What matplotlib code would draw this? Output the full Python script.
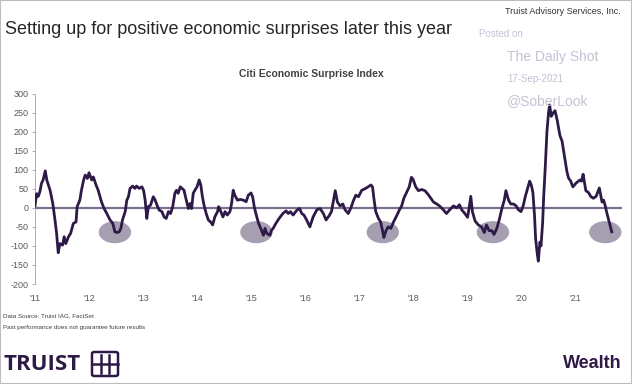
import matplotlib.pyplot as plt
from matplotlib.patches import Ellipse, Rectangle, FancyBboxPatch
from matplotlib.lines import Line2D

plt.rcParams['font.family'] = ['Liberation Sans', 'DejaVu Sans']
plt.rcParams['axes.unicode_minus'] = False

# Citi Economic Surprise Index (decimal year, index level)
years = [
    2011.00, 2011.03, 2011.06, 2011.09, 2011.12, 2011.15, 2011.19, 2011.22, 2011.28, 2011.33,
    2011.37, 2011.40, 2011.43, 2011.46, 2011.51, 2011.54, 2011.57, 2011.62, 2011.66, 2011.71,
    2011.76, 2011.78, 2011.83, 2011.86, 2011.90, 2011.93, 2011.97, 2012.00, 2012.05, 2012.08,
    2012.13, 2012.17, 2012.23, 2012.28, 2012.33, 2012.39, 2012.44, 2012.48, 2012.52, 2012.56,
    2012.59, 2012.62, 2012.67, 2012.70, 2012.73, 2012.76, 2012.81, 2012.85, 2012.88, 2012.93,
    2012.98, 2013.01, 2013.04, 2013.07, 2013.10, 2013.14, 2013.19, 2013.22, 2013.27, 2013.30,
    2013.35, 2013.39, 2013.43, 2013.47, 2013.51, 2013.55, 2013.59, 2013.62, 2013.65, 2013.69,
    2013.72, 2013.76, 2013.78, 2013.81, 2013.84, 2013.87, 2013.90, 2013.93, 2013.96, 2014.00,
    2014.04, 2014.07, 2014.10, 2014.13, 2014.17, 2014.21, 2014.25, 2014.29, 2014.33, 2014.38,
    2014.40, 2014.43, 2014.48, 2014.52, 2014.56, 2014.61, 2014.64, 2014.67, 2014.70, 2014.75,
    2014.80, 2014.86, 2014.91, 2014.95, 2015.00, 2015.03, 2015.06, 2015.09, 2015.14, 2015.18,
    2015.23, 2015.26, 2015.29, 2015.35, 2015.38, 2015.41, 2015.46, 2015.52, 2015.59, 2015.65,
    2015.69, 2015.73, 2015.78, 2015.85, 2015.90, 2015.94, 2015.98, 2016.03, 2016.09, 2016.15,
    2016.22, 2016.28, 2016.34, 2016.39, 2016.45, 2016.49, 2016.54, 2016.56, 2016.60, 2016.65,
    2016.70, 2016.74, 2016.80, 2016.85, 2016.90, 2016.94, 2016.99, 2017.05, 2017.11, 2017.17,
    2017.22, 2017.25, 2017.28, 2017.31, 2017.36, 2017.40, 2017.44, 2017.46, 2017.50, 2017.54,
    2017.59, 2017.64, 2017.70, 2017.75, 2017.79, 2017.83, 2017.88, 2017.93, 2017.97, 2018.00,
    2018.05, 2018.10, 2018.16, 2018.22, 2018.28, 2018.33, 2018.38, 2018.44, 2018.49, 2018.56,
    2018.62, 2018.68, 2018.75, 2018.81, 2018.86, 2018.90, 2018.96, 2019.01, 2019.04, 2019.07,
    2019.10, 2019.15, 2019.21, 2019.27, 2019.32, 2019.36, 2019.41, 2019.46, 2019.50, 2019.55,
    2019.60, 2019.64, 2019.69, 2019.72, 2019.77, 2019.81, 2019.86, 2019.91, 2019.95, 2020.00,
    2020.04, 2020.08, 2020.12, 2020.16, 2020.19, 2020.22, 2020.25, 2020.27, 2020.30, 2020.32,
    2020.35, 2020.37, 2020.40, 2020.42, 2020.45, 2020.48, 2020.51, 2020.53, 2020.56, 2020.60,
    2020.63, 2020.67, 2020.72, 2020.76, 2020.81, 2020.85, 2020.88, 2020.92, 2020.96, 2021.02,
    2021.09, 2021.12, 2021.15, 2021.20, 2021.25, 2021.29, 2021.34, 2021.39, 2021.45, 2021.50,
    2021.53, 2021.56, 2021.59, 2021.62, 2021.65, 2021.68,
]
values = [
    5, 37, 30, 42, 64, 73, 97, 72, 46, 11,
    -32, -67, -118, -94, -98, -76, -94, -76, -67, -41,
    -37, 3, 20, 46, 73, 86, 77, 92, 73, 81,
    60, 46, 16, -2, -15, -32, -41, -63, -65, -63,
    -54, -32, -10, 20, 29, 51, 57, 51, 57, 51,
    55, 46, 20, -28, 3, 7, 29, 22, 3, -6,
    -10, -24, -28, -10, -15, 3, 38, 46, 38, 55,
    51, 46, 33, 16, -2, 11, -2, 38, 46, 55,
    73, 60, 29, 7, -15, -32, -37, -45, -24, -10,
    3, -6, -24, -10, -19, -10, 11, 46, 33, 20,
    22, 20, 16, 33, 39, 29, 3, -15, -41, -54,
    -72, -54, -67, -72, -59, -54, -41, -28, -15, -8,
    -15, -10, -19, -6, -2, -15, -19, -32, -50, -24,
    -5, -2, -15, -32, -20, -10, 30, 45, 15, 5,
    10, -5, -15, 0, 20, 33, 29, 46, 50, 55,
    60, 55, 20, -10, -28, -37, -63, -78, -60, -50,
    -54, -37, -20, -5, 5, 25, 40, 55, 80, 75,
    55, 45, 48, 45, 35, 25, 15, 10, 5, -5,
    -15, -5, 5, 0, 8, -5, -15, -25, 0, 30,
    -10, -35, -45, -50, -65, -45, -60, -60, -70, -55,
    -30, -5, 20, 45, 20, 10, 10, 5, -5, -10,
    5, 30, 50, 70, 60, 40, -20, -80, -120, -140,
    -90, -100, -40, 30, 110, 200, 250, 270, 240, 250,
    255, 230, 190, 175, 130, 95, 78, 70, 55, 65,
    73, 70, 88, 45, 40, 30, 25, 30, 52, 15,
    20, 5, -14, -30, -45, -63,
]

# highlighted troughs
trough_years = [2012.48, 2015.10, 2017.44, 2019.48, 2021.56]
trough_level = -64

tick_years = list(range(2011, 2022))
tick_labels = ["'" + str(y)[2:] for y in tick_years]

purple = '#2e1a47'
gray_txt = '#595959'
mark = '#c4c2d4'

fig = plt.figure(figsize=(6.32, 3.84), dpi=100)
ax = fig.add_axes([35 / 632, 100 / 384, 587 / 632, 190.5 / 384])

for ty in trough_years:
    ax.add_patch(Ellipse((ty, trough_level), 0.6, 58, facecolor='#a69fb2',
                         edgecolor='none', zorder=1))

ax.axhline(0, color='#7d6e90', lw=1.6, zorder=2)
ax.plot(years, values, color=purple, lw=2, zorder=3)

ax.set_xlim(2011, 2021.87)
ax.set_ylim(-200, 300)
ax.set_yticks(range(-200, 301, 50))
ax.set_xticks(tick_years)
ax.set_xticklabels(tick_labels)
ax.tick_params(axis='y', labelsize=6.5, labelcolor=gray_txt, color='#a0a0a0',
               length=2.5, width=0.6, pad=2)
ax.tick_params(axis='x', labelsize=6.5, labelcolor=gray_txt, length=0, pad=7)
for s in ['top', 'right', 'bottom']:
    ax.spines[s].set_visible(False)
ax.spines['left'].set_color('#a0a0a0')
ax.spines['left'].set_linewidth(0.6)

# titles and watermark
fig.text(5 / 632, 1 - 30 / 384, 'Setting up for positive economic surprises later this year',
         fontsize=13, color='#262626', va='center', ha='left')
fig.text(621 / 632, 1 - 12 / 384, 'Truist Advisory Services, Inc.', fontsize=6.5,
         color='#333333', va='center', ha='right')
fig.text(311 / 632, 1 - 74 / 384, 'Citi Economic Surprise Index', fontsize=7.5,
         fontweight='bold', color='#404040', va='center', ha='center')
fig.text(479 / 632, 1 - 34 / 384, 'Posted on', fontsize=7, color=mark, va='center')
fig.text(507 / 632, 1 - 57 / 384, 'The Daily Shot', fontsize=10, color=mark, va='center')
fig.text(507 / 632, 1 - 79 / 384, '17-Sep-2021', fontsize=7, color=mark, va='center')
fig.text(507 / 632, 1 - 101 / 384, '@SoberLook', fontsize=10, color=mark, va='center')

# footnotes
fig.text(3 / 632, 1 - 316 / 384, 'Data Source: Truist IAG, FactSet', fontsize=4.5,
         color='#404040', va='center')
fig.text(3 / 632, 1 - 328 / 384, 'Past performance does not guarantee future results',
         fontsize=4.5, color='#404040', va='center')

# brand
fig.text(3 / 632, 1 - 365 / 384, 'TRUIST', fontsize=16, fontweight='bold', color=purple,
         va='center', ha='left', family=['Open Sans', 'DejaVu Sans'])
box = FancyBboxPatch((92 / 632, 1 - 376 / 384), 26 / 632, 24 / 384,
                     boxstyle='round,pad=0,rounding_size=0.004', transform=fig.transFigure,
                     facecolor='none', edgecolor=purple, lw=1.8)
fig.patches.append(box)
for seg in [((101, 101), (355, 373)), ((109, 109), (355, 373)), ((92, 118), (364, 364))]:
    fig.add_artist(Line2D([v / 632 for v in seg[0]], [1 - v / 384 for v in seg[1]],
                          color=purple, lw=1.8, transform=fig.transFigure))
fig.text(622 / 632, 1 - 363 / 384, 'Wealth', fontsize=13, fontweight='bold', color=purple,
         va='center', ha='right')

fig.patches.append(Rectangle((0, 0), 1, 1, transform=fig.transFigure, facecolor='none',
                             edgecolor='#bdbdbd', lw=1.5))

fig.savefig('out.png', dpi=100)
